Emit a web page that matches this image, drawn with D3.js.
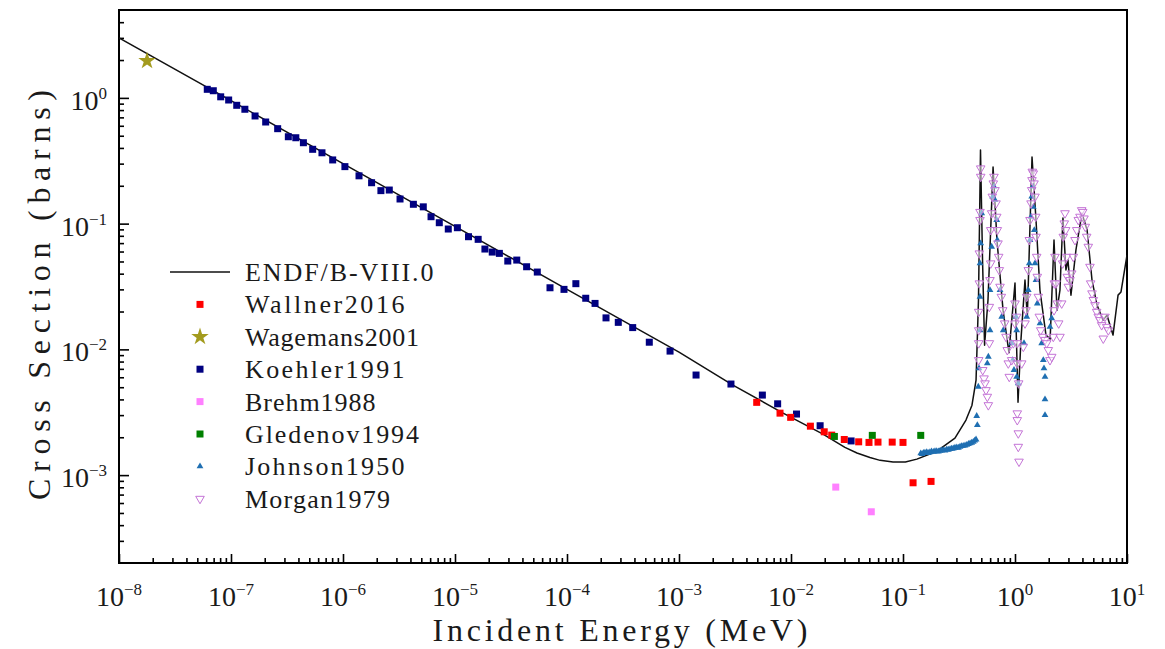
<!DOCTYPE html>
<html>
<head>
<meta charset="utf-8">
<script src="https://cdn.jsdelivr.net/npm/d3@7"></script>
<style>
  body { margin: 0; background: #fff; }
  text { font-family: "Liberation Serif", "DejaVu Serif", serif; fill: #1a1a1a; }
</style>
</head>
<body>
<div id="plot"></div>
<script>
// ---- data (MeV, barns) ----
const endfE = [1e-8, 1e-7, 1e-6, 1e-5, 1e-4, 1e-3, 3.03e-3, 8.5e-3, 0.0193, 0.0303, 0.0388, 0.0507, 0.0624, 0.0815, 0.105, 0.133, 0.201, 0.291, 0.365, 0.413, 0.449, 0.472, 0.492, 0.513, 0.535, 0.574, 0.637, 0.690, 0.782, 0.883, 1.0, 1.064, 1.13, 1.228, 1.288, 1.419, 1.54, 1.67, 1.89, 2.06, 2.23, 2.37, 2.52, 2.68, 2.85, 2.97, 3.16, 3.5, 3.96, 4.40, 4.87, 5.40, 6.1, 6.63, 7.5, 8.32, 8.84, 10];
const endfS = [3.0, 0.95, 0.30, 0.095, 0.030, 0.0095, 5.2e-3, 3.11e-3, 2.12e-3, 1.66e-3, 1.50e-3, 1.38e-3, 1.31e-3, 1.27e-3, 1.27e-3, 1.34e-3, 1.55e-3, 1.97e-3, 2.74e-3, 3.6e-3, 5.7e-3, 0.0247, 0.385, 0.0513, 0.0108, 0.0247, 0.282, 0.074, 0.0205, 0.0094, 0.0337, 3.8e-3, 0.0119, 0.0356, 0.0181, 0.339, 0.107, 0.0296, 0.013, 0.0121, 0.074, 0.0205, 0.0296, 0.111, 0.0428, 0.0513, 0.027, 0.0617, 0.121, 0.089, 0.0356, 0.0225, 0.0171, 0.0187, 0.0130, 0.027, 0.0286, 0.0563];

const wallnerE = [4.94e-3, 7.98e-3, 9.93e-3, 1.49e-2, 1.98e-2, 2.31e-2, 2.99e-2, 4.02e-2, 4.97e-2, 5.98e-2, 8.01e-2, 0.100, 0.123, 0.178];
const wallnerS = [3.79e-3, 3.11e-3, 2.88e-3, 2.45e-3, 2.21e-3, 2.08e-3, 1.92e-3, 1.84e-3, 1.82e-3, 1.83e-3, 1.83e-3, 1.82e-3, 8.69e-4, 8.91e-4];

const wagemansE = [1.78e-8];
const wagemansS = [1.97];

const koehlerE = [6.14e-8, 6.95e-8, 8.09e-8, 9.53e-8, 1.125e-7, 1.33e-7, 1.64e-7, 2.04e-7, 2.61e-7, 3.25e-7, 3.79e-7, 4.43e-7, 5.36e-7, 6.49e-7, 8.09e-7, 1.04e-6, 1.39e-6, 1.80e-6, 2.18e-6, 2.59e-6, 3.23e-6, 4.25e-6, 5.21e-6, 6.11e-6, 7.24e-6, 8.71e-6, 1.05e-5, 1.32e-5, 1.61e-5, 1.85e-5, 2.15e-5, 2.49e-5, 2.96e-5, 3.56e-5, 4.36e-5, 5.43e-5, 7.05e-5, 9.40e-5, 1.20e-4, 1.47e-4, 1.78e-4, 2.23e-4, 2.87e-4, 3.86e-4, 5.43e-4, 8.32e-4, 1.42e-3, 2.91e-3, 5.55e-3, 7.60e-3, 1.12e-2, 1.82e-2, 3.44e-2];
const koehlerS = [1.17, 1.14, 1.02, 0.962, 0.873, 0.812, 0.718, 0.643, 0.569, 0.491, 0.482, 0.440, 0.390, 0.366, 0.321, 0.284, 0.240, 0.2115, 0.183, 0.185, 0.157, 0.1425, 0.136, 0.1135, 0.1017, 0.0906, 0.0928, 0.0787, 0.0750, 0.0628, 0.0594, 0.0580, 0.0504, 0.0513, 0.0454, 0.0412, 0.0309, 0.0300, 0.0333, 0.0255, 0.0232, 0.0178, 0.0164, 0.0149, 0.0114, 0.00969, 0.00625, 0.00530, 0.00433, 0.00369, 0.00306, 0.00247, 0.00187];

const brehmE = [2.51e-2, 5.21e-2];
const brehmS = [8.03e-4, 5.11e-4];

const gledenovE = [2.44e-2, 5.32e-2, 0.144];
const gledenovS = [2.03e-3, 2.07e-3, 2.07e-3];

const johnsonE = [0.144, 0.148, 0.152, 0.157, 0.163, 0.168, 0.174, 0.180, 0.187, 0.193, 0.200, 0.207, 0.214, 0.221, 0.229, 0.237, 0.246, 0.254, 0.263, 0.272, 0.281, 0.291, 0.302, 0.312, 0.323, 0.334, 0.345, 0.358, 0.371, 0.384, 0.397, 0.410, 0.424, 0.437, 0.449,
  0.461, 0.455, 0.470, 0.477, 0.487, 0.487, 0.487, 0.494, 0.504, 0.566, 0.578, 0.598, 0.598, 0.619, 0.632, 0.649, 0.663, 0.687, 0.695, 0.735, 0.761, 0.786, 0.934, 0.954, 0.980, 1.021, 1.035, 1.035, 1.070, 1.203, 1.272, 1.314, 1.342, 1.361, 1.390, 1.410, 1.439, 1.457, 1.487, 1.509, 1.540, 1.582, 1.672, 1.731, 1.790, 1.815, 1.853, 1.853, 1.853, 2.053, 2.127];
const johnsonS = [0.00149, 0.00147, 0.00150, 0.00151, 0.00152, 0.00150, 0.00152, 0.00154, 0.00153, 0.00155, 0.00155, 0.00154, 0.00156, 0.00157, 0.00158, 0.00157, 0.00160, 0.00159, 0.00161, 0.00162, 0.00163, 0.00165, 0.00166, 0.00165, 0.00168, 0.00170, 0.00171, 0.00172, 0.00174, 0.00177, 0.00179, 0.00181, 0.00184, 0.00188, 0.00192,
  0.00250, 0.00295, 0.00504, 0.00706, 0.0142, 0.0262, 0.0483, 0.0697, 0.121, 0.00774, 0.00873, 0.0142, 0.0296, 0.0655, 0.164, 0.197, 0.154, 0.107, 0.0741, 0.0296, 0.0182, 0.0142, 0.0112, 0.00822, 0.00685, 0.0182, 0.0142, 0.00605, 0.00537, 0.0112, 0.0182, 0.0296, 0.0483, 0.0741, 0.1135, 0.164, 0.197, 0.136, 0.0889, 0.0483, 0.0356, 0.0232, 0.0161, 0.0112, 0.00822, 0.00706, 0.00605, 0.00400, 0.00300, 0.0151, 0.0177];

const morganE = [0.494, 0.494, 0.487, 0.487, 0.480, 0.480, 0.474, 0.474, 0.474, 0.474, 0.515, 0.529, 0.540, 0.551, 0.566, 0.578,
  0.590, 0.590, 0.598, 0.607, 0.607, 0.619, 0.627, 0.640, 0.649, 0.663, 0.677, 0.687, 0.695, 0.705, 0.715, 0.724, 0.735, 0.755, 0.777, 0.809, 0.831, 0.853, 0.871, 0.889,
  0.934, 0.966, 1.0, 1.0, 1.035, 1.048, 1.048, 1.079, 1.048, 1.048, 1.070, 1.070, 1.086,
  1.148, 1.186, 1.228, 1.254, 1.272, 1.314, 1.342, 1.361, 1.390, 1.410, 1.418, 1.427, 1.457, 1.478, 1.509, 1.530, 1.540, 1.562, 1.582, 1.615, 1.648, 1.696, 1.767, 1.853, 1.919, 1.983, 2.053, 2.127,
  2.198, 2.229, 2.244, 2.275, 2.322, 2.386, 2.455, 2.521, 2.612, 2.666, 2.699, 2.754, 2.795, 2.835, 2.894, 2.931, 2.992, 3.097, 3.208, 3.316, 3.433, 3.556, 3.674, 3.803, 3.940, 4.023, 4.130, 4.244, 4.365, 4.510, 4.67, 4.74, 4.87, 5.00, 5.18, 5.36, 5.54, 5.74, 5.94, 6.14, 6.36, 6.59, 6.81];
const morganS = [0.275, 0.236, 0.124, 0.107, 0.0580, 0.0335, 0.0199, 0.0142, 0.0112, 0.00822, 0.00685, 0.00588, 0.00537, 0.00474, 0.00420, 0.00360,
  0.0112, 0.0218, 0.0356, 0.0483, 0.0889, 0.121, 0.164, 0.209, 0.236, 0.185, 0.145, 0.1135, 0.0889, 0.0697, 0.0545, 0.0427, 0.0315, 0.0262, 0.0205, 0.0161, 0.0126, 0.00988, 0.00774, 0.00605,
  0.00822, 0.0112, 0.0161, 0.0232, 0.0182, 0.0112, 0.00774, 0.00537, 0.00310, 0.00274, 0.00215, 0.00168, 0.00128,
  0.00774, 0.0105, 0.0161, 0.0205, 0.0262, 0.0427, 0.0741, 0.107, 0.145, 0.185, 0.222, 0.259, 0.251, 0.209, 0.164, 0.1135, 0.0787, 0.0545, 0.0378, 0.0262, 0.0182, 0.0142, 0.0126, 0.0119, 0.0112, 0.00988, 0.00822, 0.00873,
  0.0126, 0.0205, 0.0335, 0.0545, 0.0335, 0.0232, 0.0161, 0.0126, 0.0232, 0.0483, 0.0787, 0.1005, 0.121, 0.0889, 0.0545, 0.0378, 0.0315, 0.0356, 0.0402, 0.0545, 0.0741, 0.0889, 0.107, 0.1135, 0.128, 0.124, 0.110, 0.0945, 0.0787, 0.0655, 0.0454, 0.0335, 0.0279, 0.0247, 0.0225, 0.0199, 0.0182, 0.0171, 0.0156, 0.0122, 0.0182, 0.0151, 0.0142];

const xMajor = [1e-8, 1e-7, 1e-6, 1e-5, 1e-4, 1e-3, 1e-2, 1e-1, 1, 10];
const xExp = ["-8", "-7", "-6", "-5", "-4", "-3", "-2", "-1", "0", "1"];
const yMajor = [1e-3, 1e-2, 1e-1, 1];
const yExp = ["-3", "-2", "-1", "0"];

const legendNames = ["ENDF/B-VIII.0", "Wallner2016", "Wagemans2001", "Koehler1991", "Brehm1988", "Gledenov1994", "Johnson1950", "Morgan1979"];

// ---- chart ----
const width = 1165, height = 649;
const margin = { left: 119, right: 1127, top: 10, bottom: 563 };

const svg = d3.select("#plot").append("svg")
  .attr("width", width)
  .attr("height", height);

const x = d3.scaleLog().domain([1e-8, 10]).range([margin.left, margin.right]);
const y = d3.scaleLog().domain([2e-4, 5]).range([margin.bottom, margin.top]);

// minor ticks
const xMinor = [];
for (let p = -8; p <= 0; p++) for (let m = 2; m <= 9; m++) xMinor.push(m * Math.pow(10, p));
const yMinor = [];
for (let p = -4; p <= 0; p++) for (let m = 2; m <= 9; m++) {
  const v = m * Math.pow(10, p);
  if (v > 2.01e-4 && v < 4.99) yMinor.push(v);
}

function tickAxis(axis, transform) {
  const g = svg.append("g").attr("transform", transform).call(axis);
  g.select(".domain").remove();
  g.selectAll(".tick line").attr("stroke", "#000").attr("stroke-width", 1.6);
  g.selectAll(".tick text").remove();
}
tickAxis(d3.axisBottom(x).tickValues(xMinor).tickSize(-5), `translate(0,${margin.bottom})`);
tickAxis(d3.axisBottom(x).tickValues(xMajor).tickSize(-9), `translate(0,${margin.bottom})`);
tickAxis(d3.axisLeft(y).tickValues(yMinor).tickSize(-5), `translate(${margin.left},0)`);
tickAxis(d3.axisLeft(y).tickValues(yMajor).tickSize(-10), `translate(${margin.left},0)`);

// frame
svg.append("rect")
  .attr("x", margin.left).attr("y", margin.top)
  .attr("width", margin.right - margin.left).attr("height", margin.bottom - margin.top)
  .attr("fill", "none").attr("stroke", "#000").attr("stroke-width", 2);

// tick labels 10^n
xMajor.forEach((v, i) => {
  const t = svg.append("text")
    .attr("x", x(v)).attr("y", 606)
    .attr("text-anchor", "middle")
    .style("font-size", "28px");
  t.append("tspan").text("10");
  t.append("tspan").attr("dy", -11).style("font-size", "17px").text(xExp[i].replace("-", "\u2212"));
});
yMajor.forEach((v, i) => {
  const t = svg.append("text")
    .attr("x", 107).attr("y", y(v) + 12)
    .attr("text-anchor", "end")
    .style("font-size", "28px");
  t.append("tspan").text("10");
  t.append("tspan").attr("dy", -11).style("font-size", "17px").text(yExp[i].replace("-", "\u2212"));
});

// axis titles
svg.append("text")
  .attr("x", 620).attr("y", 641)
  .attr("text-anchor", "middle")
  .attr("textLength", 375).attr("lengthAdjust", "spacing")
  .style("font-size", "32px")
  .text("Incident Energy (MeV)");

svg.append("text")
  .attr("transform", "translate(50,295) rotate(-90)")
  .attr("text-anchor", "middle")
  .attr("textLength", 410).attr("lengthAdjust", "spacing")
  .style("font-size", "32px")
  .text("Cross Section (barns)");

// plot area
svg.append("clipPath").attr("id", "clip")
  .append("rect").attr("x", margin.left).attr("y", margin.top)
  .attr("width", margin.right - margin.left).attr("height", margin.bottom - margin.top);
const plot = svg.append("g").attr("clip-path", "url(#clip)");

const zip = (a, b) => a.map((e, i) => [e, b[i]]);

plot.append("path")
  .datum(zip(endfE, endfS))
  .attr("fill", "none")
  .attr("stroke", "#111")
  .attr("stroke-width", 1.5)
  .attr("stroke-linejoin", "round")
  .attr("d", d3.line().x(d => x(d[0])).y(d => y(d[1])));

function squares(data, color) {
  plot.append("g").selectAll("rect")
    .data(data).enter().append("rect")
    .attr("x", d => x(d[0]) - 3.5)
    .attr("y", d => y(d[1]) - 3.5)
    .attr("width", 7).attr("height", 7)
    .attr("fill", color);
}

const triUp = d3.symbol().type(d3.symbolTriangle).size(20);
const triDown = d3.symbol().type(d3.symbolTriangle).size(32);
const star = d3.symbol().type(d3.symbolStar).size(95);

// Johnson (filled up triangles)
plot.append("g").selectAll("path")
  .data(zip(johnsonE, johnsonS)).enter().append("path")
  .attr("d", triUp)
  .attr("transform", d => `translate(${x(d[0])},${y(d[1])})`)
  .attr("fill", "#1f6fb2");

// Morgan (open down triangles)
plot.append("g").selectAll("path")
  .data(zip(morganE, morganS)).enter().append("path")
  .attr("d", triDown)
  .attr("transform", d => `translate(${x(d[0])},${y(d[1])}) rotate(180)`)
  .attr("fill", "#fff").attr("fill-opacity", 0.5)
  .attr("stroke", "#c474d6").attr("stroke-width", 1);

squares(zip(koehlerE, koehlerS), "#000080");
squares(zip(wallnerE, wallnerS), "#ff0000");
squares(zip(gledenovE, gledenovS), "#008000");
squares(zip(brehmE, brehmS), "#ff80ff");

plot.append("g").selectAll("path")
  .data(zip(wagemansE, wagemansS)).enter().append("path")
  .attr("d", star)
  .attr("transform", d => `translate(${x(d[0])},${y(d[1])})`)
  .attr("fill", "#a39b1e");

// legend
const leg = svg.append("g");
const rowY = i => 272 + i * 32.4;
legendNames.forEach((name, i) => {
  leg.append("text")
    .attr("x", 245).attr("y", rowY(i) + 9)
    .attr("textLength", name.length * 14.5).attr("lengthAdjust", "spacing")
    .style("font-size", "26px")
    .text(name);
});
leg.append("line")
  .attr("x1", 170).attr("x2", 230).attr("y1", rowY(0)).attr("y2", rowY(0))
  .attr("stroke", "#111").attr("stroke-width", 1.5);
[[1, "#ff0000"], [3, "#000080"], [4, "#ff80ff"], [5, "#008000"]].forEach(([i, c]) => {
  leg.append("rect").attr("x", 196.5).attr("y", rowY(i) - 3.5)
    .attr("width", 7).attr("height", 7).attr("fill", c);
});
leg.append("path").attr("d", star).attr("transform", `translate(200,${rowY(2)})`).attr("fill", "#a39b1e");
leg.append("path").attr("d", triUp).attr("transform", `translate(200,${rowY(6)})`).attr("fill", "#1f6fb2");
leg.append("path").attr("d", triDown).attr("transform", `translate(200,${rowY(7)}) rotate(180)`)
  .attr("fill", "#fff").attr("stroke", "#c474d6").attr("stroke-width", 1);
</script>
</body>
</html>
